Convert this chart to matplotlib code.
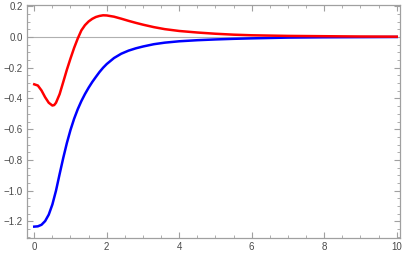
import matplotlib
matplotlib.use("Agg")
import matplotlib.pyplot as plt
from matplotlib.ticker import MultipleLocator, FixedLocator

red_x = [0.0, 0.1, 0.2, 0.3, 0.4, 0.5, 0.55, 0.6, 0.7, 0.8, 0.9, 1.0, 1.1, 1.2, 1.3, 1.4, 1.5,
         1.6, 1.7, 1.8, 1.9, 2.0, 2.2, 2.4, 2.6, 2.8, 3.0, 3.3, 3.6, 4.0, 4.5, 5.0, 5.5,
         6.0, 7.0, 8.0, 9.0, 10.0]
red_y = [-0.308, -0.316, -0.348, -0.392, -0.428, -0.446, -0.443, -0.428, -0.372, -0.293,
         -0.213, -0.140, -0.071, -0.010, 0.043, 0.077, 0.101, 0.118, 0.130, 0.137, 0.141,
         0.140, 0.132, 0.119, 0.105, 0.092, 0.080, 0.064, 0.051, 0.039, 0.029, 0.021, 0.015,
         0.011, 0.007, 0.005, 0.003, 0.002]

blue_x = [0.0, 0.1, 0.2, 0.3, 0.4, 0.5, 0.6, 0.7, 0.8, 0.9, 1.0, 1.1, 1.2, 1.3, 1.4, 1.5,
          1.6, 1.7, 1.8, 1.9, 2.0, 2.2, 2.4, 2.6, 2.8, 3.0, 3.3, 3.6, 4.0, 4.5, 5.0, 5.5,
          6.0, 7.0, 8.0, 9.0, 10.0]
blue_y = [-1.234, -1.232, -1.222, -1.198, -1.156, -1.090, -1.000, -0.892, -0.787, -0.690,
          -0.605, -0.532, -0.470, -0.417, -0.371, -0.330, -0.293, -0.260, -0.228, -0.200,
          -0.176, -0.137, -0.109, -0.089, -0.074, -0.062, -0.047, -0.037, -0.028, -0.021,
          -0.016, -0.012, -0.009, -0.004, -0.002, -0.001, 0.0]

x_ticks = [0, 2, 4, 6, 8, 10]
y_ticks = [0.2, 0.0, -0.2, -0.4, -0.6, -0.8, -1.0, -1.2]
y_labels = ["0.2", "0.0", "\u22120.2", "\u22120.4", "\u22120.6", "\u22120.8", "\u22121.0", "\u22121.2"]

plt.rcParams['font.family'] = ['Liberation Sans', 'DejaVu Sans']

fig = plt.figure(figsize=(4.09, 2.56), dpi=100)
ax = fig.add_axes([27/409, 1-238/256, (400-27)/409, (238-4.7)/256])

ax.axhline(0, color="#b0b0b0", lw=0.8, zorder=1)
ax.plot(red_x, red_y, color="#ff0000", lw=1.8, zorder=3)
ax.plot(blue_x, blue_y, color="#0000ff", lw=1.8, zorder=2)

ax.set_xlim(-0.2, 10.09)
ax.set_ylim(-1.308, 0.21)

ax.xaxis.set_major_locator(FixedLocator(x_ticks))
ax.xaxis.set_minor_locator(MultipleLocator(0.5))
ax.yaxis.set_major_locator(FixedLocator(y_ticks))
ax.yaxis.set_minor_locator(MultipleLocator(0.05))
ax.set_xticklabels([str(t) for t in x_ticks])
ax.set_yticklabels(y_labels)

for s in ax.spines.values():
    s.set_color("#a0a0a0")
    s.set_linewidth(0.9)

ax.tick_params(which="both", direction="in", top=True, right=True, color="#a0a0a0",
               labelcolor="#4a4a4a", labelsize=7)
ax.tick_params(which="major", length=4, width=0.8, pad=3)
ax.tick_params(which="minor", length=2, width=0.6)

fig.savefig("out.png", dpi=100)
